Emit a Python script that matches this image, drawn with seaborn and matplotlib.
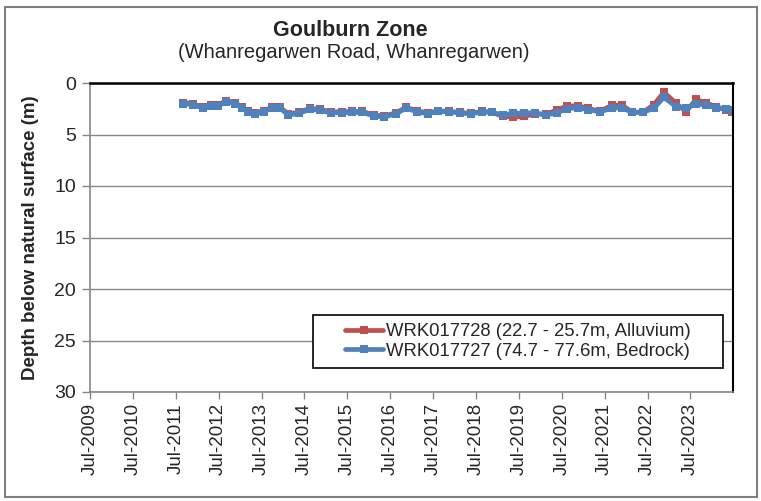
import matplotlib
matplotlib.use("Agg")
import matplotlib.pyplot as plt
import matplotlib.dates as mdates
from matplotlib.patches import Rectangle
import seaborn as sns
import pandas as pd

dates = ["2011-09-01", "2011-11-25", "2012-02-18", "2012-04-27", "2012-06-26", "2012-09-02",
         "2012-11-17", "2013-01-16", "2013-03-08", "2013-05-07", "2013-07-23", "2013-09-29",
         "2013-12-06", "2014-02-12", "2014-05-16", "2014-08-18", "2014-11-10", "2015-02-13",
         "2015-05-16", "2015-08-10", "2015-11-03", "2016-02-13", "2016-05-09", "2016-08-19",
         "2016-11-12", "2017-02-14", "2017-05-18", "2017-08-11", "2017-11-13", "2018-02-15",
         "2018-05-19", "2018-08-21", "2018-11-14", "2019-02-16", "2019-05-12", "2019-08-13",
         "2019-11-15", "2020-02-17", "2020-05-21", "2020-08-14", "2020-11-16", "2021-02-09",
         "2021-05-22", "2021-09-01", "2021-11-25", "2022-02-18", "2022-05-23", "2022-08-24",
         "2022-11-17", "2023-03-01", "2023-05-24", "2023-08-17", "2023-11-10", "2024-02-03",
         "2024-04-28", "2024-06-20"]

bedrock = [2.0, 2.1, 2.45, 2.25, 2.25, 1.8, 2.0, 2.45, 2.85, 3.0, 2.8, 2.4,
           2.45, 3.1, 2.95, 2.55, 2.65, 2.9, 2.9, 2.85, 2.85, 3.2, 3.3, 3.0,
           2.45, 2.8, 3.0, 2.75, 2.8, 2.9, 3.0, 2.8, 2.85, 3.1, 2.95, 2.9,
           2.9, 3.1, 2.9, 2.5, 2.4, 2.6, 2.8, 2.45, 2.4, 2.85, 2.85, 2.45,
           1.4, 2.3, 2.45, 2.0, 2.15, 2.4, 2.5, 2.6]

alluvium = [1.9, 2.0, 2.35, 2.15, 2.15, 1.7, 1.9, 2.35, 2.75, 2.9, 2.7, 2.3,
            2.35, 3.0, 2.85, 2.45, 2.55, 2.8, 2.8, 2.75, 2.75, 3.1, 3.2, 2.9,
            2.35, 2.7, 2.9, 2.7, 2.75, 2.85, 2.95, 2.75, 2.85, 3.25, 3.3, 3.25,
            3.0, 3.05, 2.6, 2.25, 2.2, 2.45, 2.75, 2.15, 2.15, 2.8, 2.85, 2.1,
            0.9, 1.95, 2.8, 1.6, 1.9, 2.3, 2.6, 2.8]

labels = ["WRK017728 (22.7 - 25.7m, Alluvium)", "WRK017727 (74.7 - 77.6m, Bedrock)"]
tick_years = list(range(2009, 2024))
y_ticks = [0, 5, 10, 15, 20, 25, 30]

df = pd.DataFrame({"date": pd.to_datetime(dates), "alluvium": alluvium, "bedrock": bedrock})

sns.set_style("white")
plt.rcParams["font.family"] = ["Liberation Sans", "DejaVu Sans"]

W, H = 761, 501
fig = plt.figure(figsize=(W / 100, H / 100), dpi=100)
ax = fig.add_axes([90 / W, 1 - 392 / H, 643 / W, 309 / H])

red = "#C0504D"
blue = "#4F81BD"
sns.lineplot(data=df, x="date", y="alluvium", ax=ax, color=red, lw=3.4, marker="s",
             markersize=6.4, markeredgewidth=0, label=labels[0])
sns.lineplot(data=df, x="date", y="bedrock", ax=ax, color=blue, lw=3.4, marker="s",
             markersize=6.4, markeredgewidth=0, label=labels[1])

ax.set_ylim(30, 0)
ax.set_yticks(y_ticks)
ax.set_xlim(pd.Timestamp("2009-07-01"), pd.Timestamp("2024-06-28"))
ax.set_xticks([pd.Timestamp(f"{y}-07-01") for y in tick_years])
ax.xaxis.set_major_formatter(mdates.DateFormatter("%b-%Y"))
ax.tick_params(axis="x", rotation=90, labelsize=13.5, direction="out", length=5,
               color="#868686", width=1, pad=3)
ax.tick_params(axis="y", labelsize=14, direction="out", length=6, color="#868686",
               width=1, pad=4)
ax.tick_params(left=True, bottom=True)
ax.yaxis.grid(True, color="#868686", lw=1)
ax.xaxis.grid(False)
ax.set_axisbelow(True)

for s in ["left", "bottom"]:
    ax.spines[s].set_color("#868686")
    ax.spines[s].set_linewidth(1.2)
ax.spines["top"].set_color("black")
ax.spines["top"].set_linewidth(1.8)
ax.spines["right"].set_color("black")
ax.spines["right"].set_linewidth(1.5)

ax.set_xlabel("")
ax.set_ylabel("Depth below natural surface (m)", fontsize=13.5, fontweight="bold")
ax.yaxis.set_label_coords((39 - 90) / 643, 0.5)

leg = ax.legend(loc="center", bbox_to_anchor=((518 - 90) / 643, (392 - 341.5) / 309),
                fontsize=13.3, frameon=False, handlelength=2.05,
                handletextpad=0.15, borderpad=0.0, labelspacing=0.15)
ax.add_patch(Rectangle(((313 - 90) / 643, (392 - 368) / 309), 410 / 643, 53 / 309,
                       transform=ax.transAxes, fill=True, facecolor="white",
                       edgecolor="black", lw=1.2, zorder=4))
leg.set_zorder(5)

fig.text(350 / W, 1 - 30 / H, "Goulburn Zone", ha="center", va="center",
         fontsize=15.5, fontweight="bold")
fig.text(354 / W, 1 - 52 / H, "(Whanregarwen Road, Whanregarwen)", ha="center",
         va="center", fontsize=14.5)

fig.patches.append(Rectangle((5 / W, 4 / H), 752 / W, 490 / H, transform=fig.transFigure,
                             fill=False, edgecolor="#7f7f7f", lw=1.5))

fig.savefig("out.png", dpi=100)
